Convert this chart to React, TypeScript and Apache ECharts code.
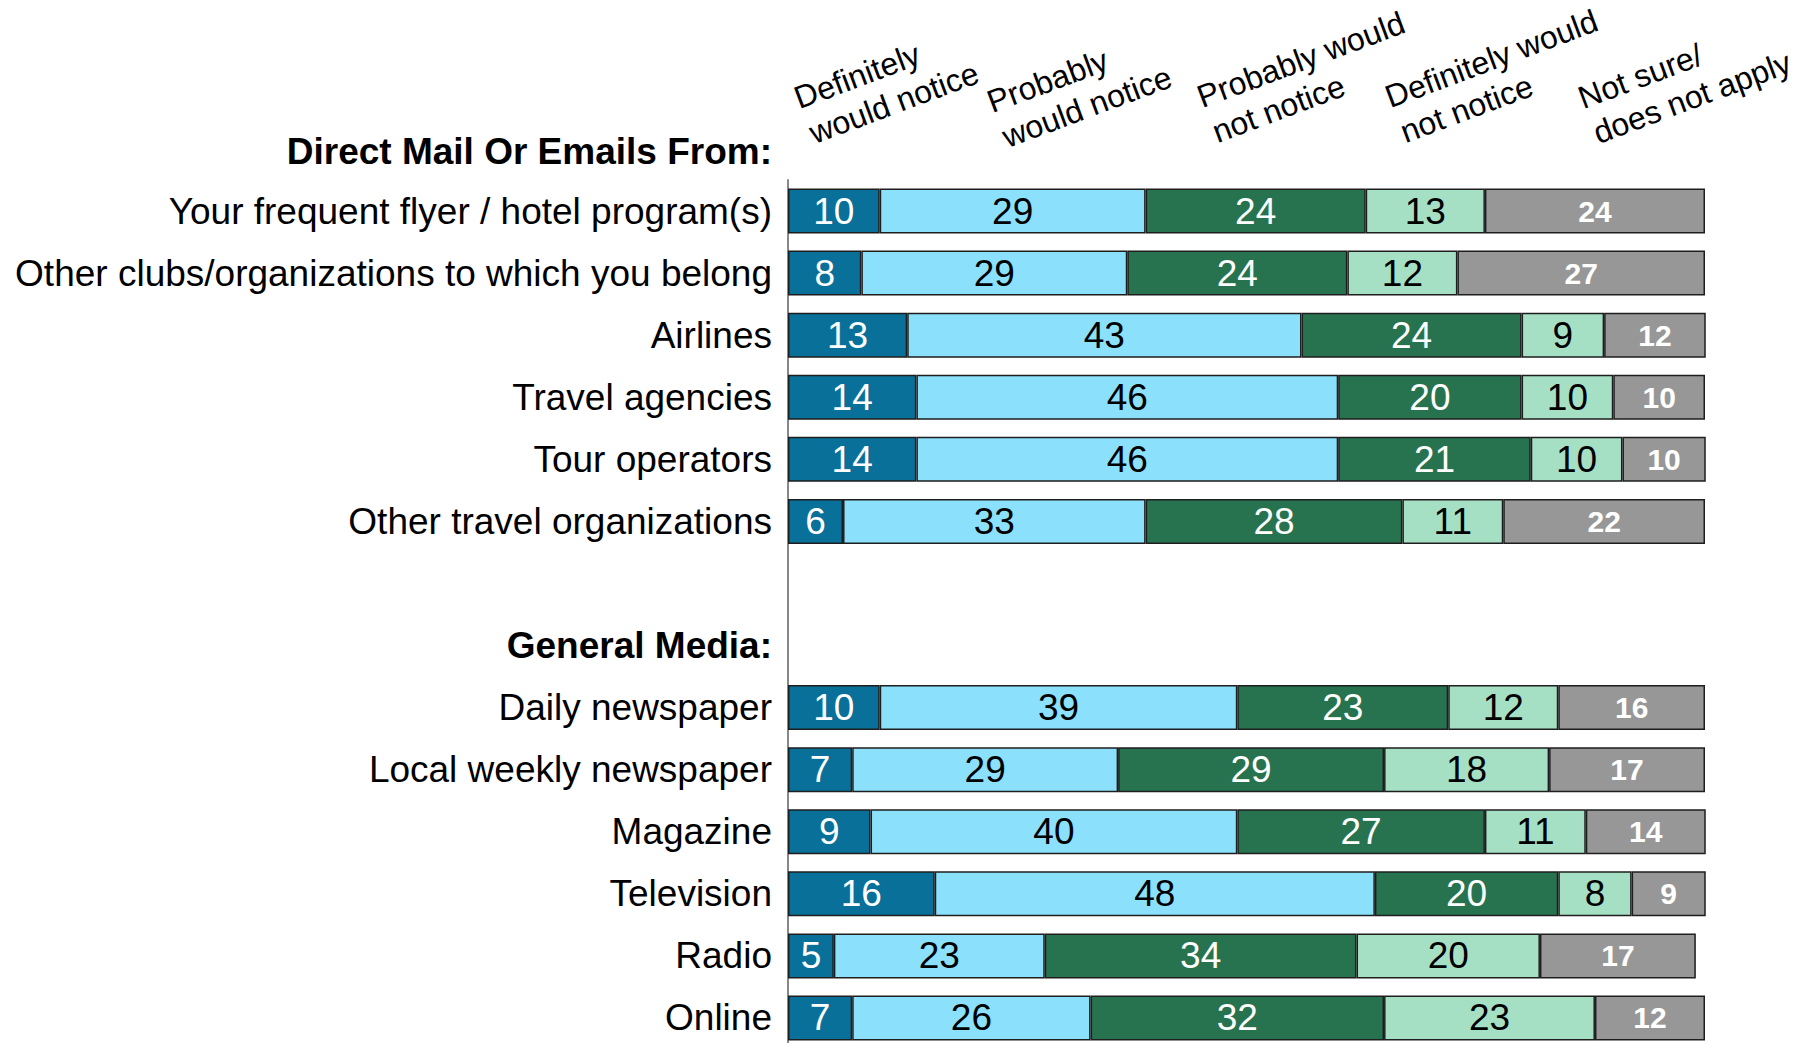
import React, { useEffect, useRef } from "react";
import * as echarts from "echarts";

const FONT = "'Liberation Sans', Arial, Helvetica, sans-serif";

const categories = [
  "Your frequent flyer / hotel program(s)",
  "Other clubs/organizations to which you belong",
  "Airlines",
  "Travel agencies",
  "Tour operators",
  "Other travel organizations",
  "",
  "General Media:",
  "Daily newspaper",
  "Local weekly newspaper",
  "Magazine",
  "Television",
  "Radio",
  "Online",
];

const seriesNames = [
  "Definitely\nwould notice",
  "Probably\nwould notice",
  "Probably would\nnot notice",
  "Definitely would\nnot notice",
  "Not sure/\ndoes not apply",
];

const definitelyNotice = [10, 8, 13, 14, 14, 6, null, null, 10, 7, 9, 16, 5, 7];
const probablyNotice = [29, 29, 43, 46, 46, 33, null, null, 39, 29, 40, 48, 23, 26];
const probablyNot = [24, 24, 24, 20, 21, 28, null, null, 23, 29, 27, 20, 34, 32];
const definitelyNot = [13, 12, 9, 10, 10, 11, null, null, 12, 18, 11, 8, 20, 23];
const notSure = [24, 27, 12, 10, 10, 22, null, null, 16, 17, 14, 9, 17, 12];

const seriesData = [definitelyNotice, probablyNotice, probablyNot, definitelyNot, notSure];
const colors = ["#087099", "#8be0fb", "#277350", "#a6e0c4", "#979797"];
const labelColors = ["#ffffff", "#000000", "#ffffff", "#000000", "#ffffff"];

const headerAnchors = [
  [801, 114],
  [994, 118],
  [1204, 113],
  [1392, 113],
  [1585, 114],
];

export default function App() {
  const ref = useRef<HTMLDivElement>(null);

  useEffect(() => {
    if (!ref.current) return;
    const chart = echarts.init(ref.current, null, { renderer: "svg" });
    const rot = (20.5 * Math.PI) / 180;

    const headerGraphics = seriesNames.map((name, i) => {
      const lines = name.split("\n");
      return {
        type: "group",
        x: headerAnchors[i][0],
        y: headerAnchors[i][1],
        rotation: rot,
        children: lines.map((ln, j) => ({
          type: "text",
          x: j * 2,
          y: j * 38,
          style: {
            text: ln,
            fontSize: 32,
            fontFamily: FONT,
            fill: "#000",
            align: "left",
            verticalAlign: "bottom",
          },
        })),
      };
    });

    chart.setOption({
      animation: false,
      backgroundColor: "#ffffff",
      grid: { left: 788, width: 917, top: 180, height: 869, containLabel: false },
      xAxis: { type: "value", min: 0, max: 100, show: false },
      yAxis: {
        type: "category",
        inverse: true,
        data: categories,
        axisLine: { show: true, lineStyle: { color: "#888888", width: 2 } },
        axisTick: { show: false },
        splitLine: { show: false },
        axisLabel: {
          fontSize: 37,
          color: "#000",
          fontFamily: FONT,
          margin: 16,
          formatter: (v: string) => (v === "General Media:" ? `{h|${v}}` : v),
          rich: {
            h: { fontSize: 37, fontWeight: "bold", fontFamily: FONT, color: "#000" },
          },
        },
      },
      graphic: [
        {
          type: "text",
          x: 772,
          y: 151,
          style: {
            text: "Direct Mail Or Emails From:",
            fontSize: 37,
            fontWeight: "bold",
            fontFamily: FONT,
            fill: "#000",
            align: "right",
            verticalAlign: "middle",
          },
        },
        ...headerGraphics,
      ],
      series: seriesData.map((d, i) => ({
        name: seriesNames[i],
        type: "bar",
        stack: "total",
        barWidth: 45,
        data: d,
        itemStyle: { color: colors[i], borderColor: "#1e1e1e", borderWidth: 1.5 },
        label: {
          show: true,
          position: "inside",
          color: labelColors[i],
          fontFamily: FONT,
          fontSize: i === 4 ? 30 : 37,
          fontWeight: i === 4 ? "bold" : "normal",
          formatter: (p: any) => (p.value == null ? "" : String(p.value)),
        },
      })),
    });

    return () => chart.dispose();
  }, []);

  return (
    <div
      ref={ref}
      style={{ position: "fixed", left: 0, top: 0, width: 1810, height: 1060, background: "#fff" }}
    />
  );
}
